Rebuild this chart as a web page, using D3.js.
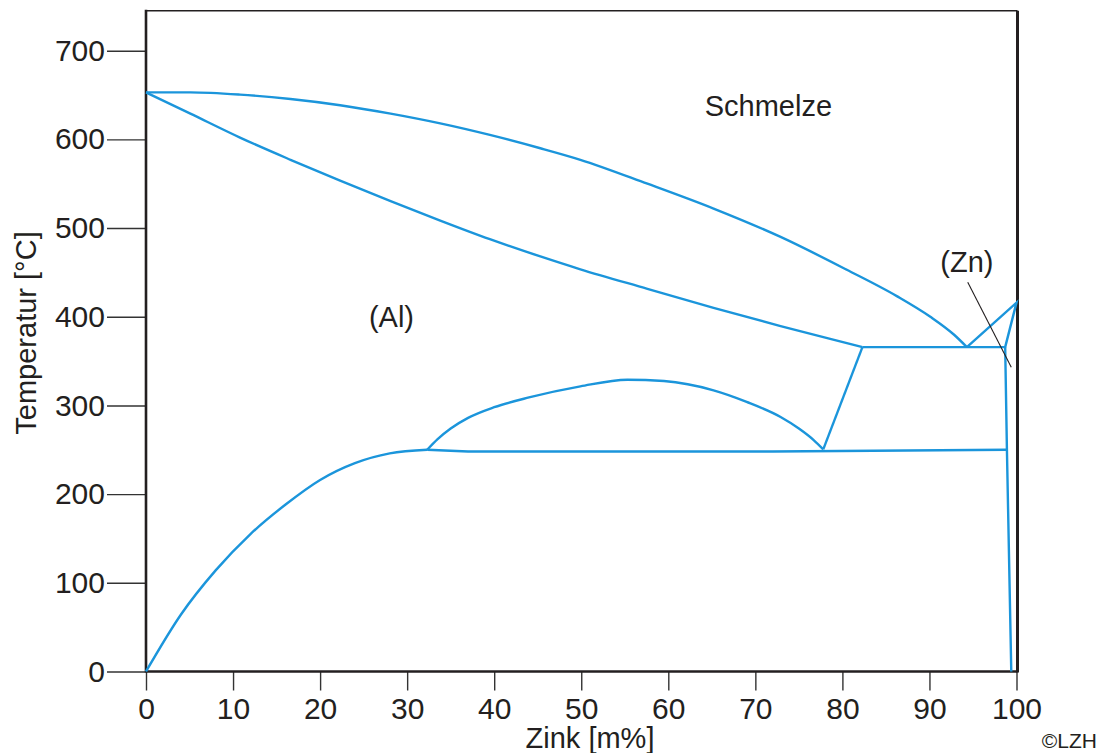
<!DOCTYPE html>
<html>
<head>
<meta charset="utf-8">
<script src="https://cdn.jsdelivr.net/npm/d3@7"></script>
<style>
  body { margin: 0; background: #fff; }
  svg text { font-family: "Liberation Sans", Arial, sans-serif; fill: #231f20; }
</style>
</head>
<body>
<div class="chart"></div>
<script>
// phase boundaries, [Zink m%, Temperatur °C]
const liquidus = [
  [0, 653], [5.1, 653], [10.8, 650.5], [16.6, 645.5], [22.3, 638.5], [28.1, 629],
  [33.8, 618], [39.5, 605], [45.3, 590], [49.9, 577], [57.6, 550],
  [65.2, 522], [72.9, 490], [80.5, 453], [86.3, 423], [90.1, 400],
  [92.8, 380], [94.3, 365.8]
];
const solidusAl = [
  [0, 653], [5.1, 629], [10.8, 602], [16.6, 577], [22.3, 553.5], [28.1, 530.5],
  [33.8, 508.5], [39.5, 487.5], [45.3, 468], [49.9, 453.5], [57.6, 431.5],
  [65.2, 410], [72.9, 389.5], [78.6, 375], [82.3, 365.8]
];
const solvusAl = [
  [0, 0], [4, 64], [8, 114], [12, 155], [16, 188], [20, 216],
  [24, 235], [28, 246], [32.3, 250]
];
const dome = [
  [32.3, 250], [33.5, 262], [35, 274], [37, 286], [40, 298], [44, 309],
  [49.9, 321.5], [55.3, 329], [59.5, 327.5], [65.2, 317], [69, 304],
  [72.9, 287], [75, 274], [76.7, 261], [77.8, 250.5]
];
const straightLines = [
  [[77.8, 250.5], [82.3, 365.8]],                 // dome -> eutectic
  [[82.3, 365.8], [98.7, 365.8]],                 // eutectic
  [[94.3, 365.8], [100, 415.9], [98.7, 365.8]],   // (Zn) liquidus / solidus
  [[98.7, 365.8], [98.9, 250], [99.4, 0]],        // (Zn) solvus
  [[32.3, 250], [37, 248], [72, 248], [98.9, 250]] // eutectoid
];
const pointer = [[94.4, 439], [99.4, 343]];

const xTicks = [0, 10, 20, 30, 40, 50, 60, 70, 80, 90, 100];
const yTicks = [0, 100, 200, 300, 400, 500, 600, 700];

const labels = [
  { text: "Schmelze", x: 71.5, y: 626 },
  { text: "(Al)", x: 28.2, y: 389 },
  { text: "(Zn)", x: 94.3, y: 450 }
];

const W = 1103, H = 753;
const blue = "#1b95db";

const x = d3.scaleLinear().domain([0, 100]).range([146, 1016.5]);
const y = d3.scaleLinear().domain([0, 700]).range([671.5, 50.7]);

const svg = d3.select(".chart")
  .append("svg")
  .attr("width", W)
  .attr("height", H);

// axes
const yAxis = svg.append("g")
  .attr("transform", `translate(${x(0)},0)`)
  .call(d3.axisLeft(y).tickValues(yTicks).tickSize(39).tickPadding(2));

const xAxis = svg.append("g")
  .attr("transform", `translate(0,${y(0)})`)
  .call(d3.axisBottom(x).tickValues(xTicks).tickSize(19).tickPadding(7));

[yAxis, xAxis].forEach(g => {
  g.select(".domain").remove();
  g.selectAll(".tick line").attr("stroke", "#333").attr("stroke-width", 1.4);
  g.selectAll(".tick text")
    .style("font-size", "30px")
    .style("font-family", "'Liberation Sans', Arial, sans-serif")
    .attr("fill", "#231f20");
});

// frame
const frameTop = 10.7, frameRight = 1017.5;
svg.append("line").attr("x1", x(0)).attr("x2", frameRight).attr("y1", frameTop).attr("y2", frameTop)
  .attr("stroke", "#231f20").attr("stroke-width", 1.6);
svg.append("line").attr("x1", frameRight).attr("x2", frameRight).attr("y1", frameTop).attr("y2", y(0) + 1)
  .attr("stroke", "#231f20").attr("stroke-width", 3);
svg.append("line").attr("x1", x(0)).attr("x2", x(0)).attr("y1", frameTop - 1).attr("y2", y(0) + 1)
  .attr("stroke", "#231f20").attr("stroke-width", 2.6);
svg.append("line").attr("x1", x(0)).attr("x2", frameRight).attr("y1", y(0)).attr("y2", y(0))
  .attr("stroke", "#231f20").attr("stroke-width", 2.4);

// curves
const smooth = d3.line()
  .x(d => x(d[0]))
  .y(d => y(d[1]))
  .curve(d3.curveMonotoneX);

const straight = d3.line()
  .x(d => x(d[0]))
  .y(d => y(d[1]));

svg.selectAll(".curve")
  .data([liquidus, solidusAl, solvusAl, dome])
  .enter()
  .append("path")
  .attr("class", "curve")
  .attr("d", smooth)
  .attr("fill", "none")
  .attr("stroke", blue)
  .attr("stroke-width", 2.4)
  .attr("stroke-linejoin", "round");

svg.selectAll(".seg")
  .data(straightLines)
  .enter()
  .append("path")
  .attr("class", "seg")
  .attr("d", straight)
  .attr("fill", "none")
  .attr("stroke", blue)
  .attr("stroke-width", 2.4)
  .attr("stroke-linejoin", "miter");

svg.append("path")
  .attr("d", straight(pointer))
  .attr("fill", "none")
  .attr("stroke", "#231f20")
  .attr("stroke-width", 1.1);

// texts
svg.selectAll(".lbl")
  .data(labels)
  .enter()
  .append("text")
  .attr("class", "lbl")
  .attr("x", d => x(d.x))
  .attr("y", d => y(d.y))
  .attr("text-anchor", "middle")
  .style("font-size", "29px")
  .text(d => d.text);

svg.append("text")
  .attr("x", 590)
  .attr("y", 748)
  .attr("text-anchor", "middle")
  .style("font-size", "29px")
  .text("Zink [m%]");

svg.append("text")
  .attr("transform", "translate(36,333) rotate(-90)")
  .attr("text-anchor", "middle")
  .style("font-size", "29px")
  .text("Temperatur [°C]");

svg.append("text")
  .attr("x", 1097)
  .attr("y", 748)
  .attr("text-anchor", "end")
  .style("font-size", "21px")
  .text("©LZH");
</script>
</body>
</html>
